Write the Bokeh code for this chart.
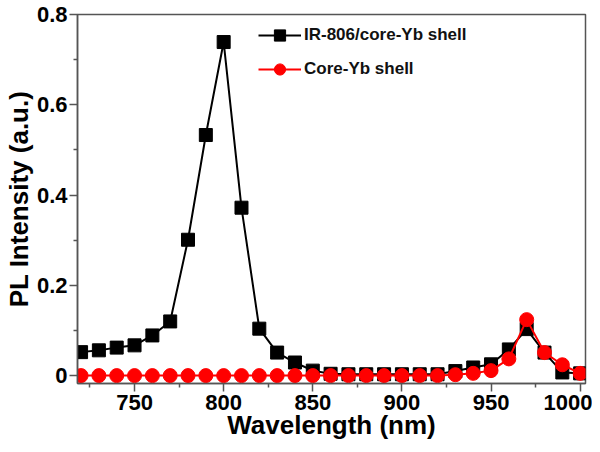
from bokeh.plotting import figure
from bokeh.models import Range1d, FixedTicker, Legend, LegendItem
from bokeh.embed import file_html
from bokeh.resources import INLINE

wavelength = [720, 730, 740, 750, 760, 770, 780, 790, 800, 810, 820, 830, 840, 850,
              860, 870, 880, 890, 900, 910, 920, 930, 940, 950, 960, 970, 980, 990, 1000]
ir806_core_yb = [0.052, 0.056, 0.062, 0.067, 0.089, 0.120, 0.301, 0.533, 0.739, 0.372,
                 0.104, 0.051, 0.029, 0.011, 0.004, 0.003, 0.003, 0.003, 0.003, 0.003,
                 0.003, 0.010, 0.018, 0.025, 0.058, 0.103, 0.051, 0.007, 0.005]
core_yb = [0.0, 0.0, 0.0, 0.0, 0.0, 0.0, 0.0, 0.0, 0.0, 0.0,
           0.0, 0.0, 0.0, 0.0, 0.0, 0.0, 0.0, 0.0, 0.0, 0.0,
           0.0, 0.002, 0.005, 0.011, 0.037, 0.124, 0.051, 0.024, 0.005]

x_ticks = [750, 800, 850, 900, 950, 1000]
x_minor = [725, 775, 825, 875, 925, 975]
y_ticks = [0, 0.2, 0.4, 0.6, 0.8]
y_minor = [0.1, 0.3, 0.5, 0.7]
y_tick_labels = ["0", "0.2", "0.4", "0.6", "0.8"]
series_names = ["IR-806/core-Yb shell", "Core-Yb shell"]
x_title = "Wavelength (nm)"
y_title = "PL Intensity (a.u.)"

FONT = "Liberation Sans"
AX = "#555555"

p = figure(width=592, height=444, output_backend="svg", toolbar_location=None,
           x_range=Range1d(718, 1003), y_range=Range1d(-0.0175, 0.8),
           min_border_left=76, min_border_right=7, min_border_top=14, min_border_bottom=61)

p.xgrid.visible = False
p.ygrid.visible = False
p.outline_line_color = AX
p.outline_line_width = 1.5
p.background_fill_color = "white"

l1 = p.line(wavelength, ir806_core_yb, line_color="black", line_width=2)
s1 = p.scatter(wavelength, ir806_core_yb, marker="square", size=13,
               fill_color="black", line_color="black")
l2 = p.line(wavelength, core_yb, line_color="#ff0000", line_width=2)
s2 = p.scatter(wavelength, core_yb, marker="circle", size=14,
               fill_color="#ff0000", line_color="#ff0000")

p.xaxis.ticker = FixedTicker(ticks=x_ticks, minor_ticks=x_minor)
p.yaxis.ticker = FixedTicker(ticks=y_ticks, minor_ticks=y_minor)
p.yaxis.major_label_overrides = {t: s for t, s in zip(y_ticks, y_tick_labels)}

p.xaxis.axis_label = x_title
p.yaxis.axis_label = y_title

for ax in (p.xaxis, p.yaxis):
    ax.axis_line_color = AX
    ax.axis_line_width = 1.5
    ax.major_tick_line_color = AX
    ax.minor_tick_line_color = AX
    ax.major_tick_line_width = 1.5
    ax.minor_tick_line_width = 1.5
    ax.major_tick_in = 0
    ax.major_tick_out = 8
    ax.minor_tick_in = 0
    ax.minor_tick_out = 4
    ax.major_label_text_font = FONT
    ax.major_label_text_font_style = "bold"
    ax.major_label_text_font_size = "22px"
    ax.major_label_text_color = "black"
    ax.axis_label_text_font = FONT
    ax.axis_label_text_font_style = "bold"
    ax.axis_label_text_font_size = "26px"
    ax.axis_label_text_color = "black"
    ax.major_label_standoff = 2
    ax.axis_label_standoff = 0

p.xaxis.major_label_standoff = 3
p.xaxis.axis_label_standoff = -3

legend = Legend(items=[LegendItem(label=series_names[0], renderers=[l1, s1]),
                       LegendItem(label=series_names[1], renderers=[l2, s2])],
                location=(181, 300), orientation="vertical",
                glyph_width=43, glyph_height=28, label_standoff=3, spacing=6,
                padding=0, margin=0, border_line_alpha=0, background_fill_alpha=0,
                label_text_font=FONT, label_text_font_style="bold",
                label_text_font_size="17px", label_text_color="#111111")
p.add_layout(legend)

open("out.html", "w").write(file_html(p, INLINE))
